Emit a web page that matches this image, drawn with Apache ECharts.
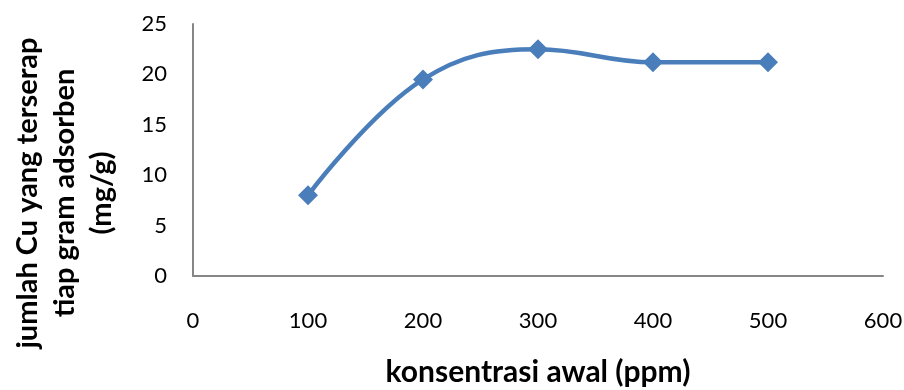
<!DOCTYPE html>
<html>
<head>
<meta charset="utf-8">
<script src="https://cdn.jsdelivr.net/npm/echarts@6/dist/echarts.min.js"></script>
<style>
  html, body { margin: 0; padding: 0; background: #fff; }
  #chart { width: 904px; height: 390px; }
</style>
</head>
<body>
<div id="chart"></div>
<script>
// Initial concentration (ppm) and Cu adsorbed per gram of adsorbent (mg/g)
const konsentrasi = [100, 200, 300, 400, 500];
const jumlahCu = [8.0, 19.5, 22.5, 21.2, 21.2];
const xTicks = [0, 100, 200, 300, 400, 500, 600];
const yTicks = [0, 5, 10, 15, 20, 25];
const yTitle = 'jumlah Cu yang terserap\ntiap gram adsorben\n(mg/g)';
const xTitle = 'konsentrasi awal (ppm)';

const FONT = 'Lato, "Open Sans", sans-serif';

const chart = echarts.init(document.getElementById('chart'), null, { renderer: 'canvas' });
chart.setOption({
  animation: false,
  backgroundColor: '#ffffff',
  grid: { left: 193, right: 21, top: 24, bottom: 114, containLabel: false, outerBoundsMode: 'none' },
  // vertical title, placed slightly below the plot's middle
  graphic: [{
    type: 'text',
    x: 65,
    y: 193,
    rotation: Math.PI / 2,
    style: {
      text: yTitle,
      fontFamily: FONT,
      fontSize: 29,
      fontWeight: 'bold',
      fill: '#000',
      lineHeight: 37,
      align: 'center',
      verticalAlign: 'middle'
    }
  }],
  xAxis: {
    type: 'value',
    min: xTicks[0],
    max: xTicks[xTicks.length - 1],
    interval: 100,
    name: xTitle,
    nameLocation: 'middle',
    nameGap: 81,
    nameTextStyle: { fontFamily: FONT, fontSize: 30, fontWeight: 'bold', color: '#000' },
    axisLine: { show: true, lineStyle: { color: '#868686', width: 2 } },
    axisTick: { show: false },
    splitLine: { show: false },
    axisLabel: { fontFamily: FONT, fontSize: 22, color: '#000', margin: 34 }
  },
  yAxis: {
    type: 'value',
    min: yTicks[0],
    max: yTicks[yTicks.length - 1],
    interval: 5,
    axisLine: { show: true, lineStyle: { color: '#868686', width: 2 } },
    axisTick: { show: false },
    splitLine: { show: false },
    axisLabel: { fontFamily: FONT, fontSize: 22, color: '#000', margin: 26 }
  },
  series: [{
    type: 'line',
    data: konsentrasi.map((x, i) => [x, jumlahCu[i]]),
    smooth: 0.4,
    symbol: 'diamond',
    symbolSize: 20,
    lineStyle: { color: '#4a7ebb', width: 4.5 },
    itemStyle: { color: '#4a7ebb' }
  }]
});
</script>
</body>
</html>
